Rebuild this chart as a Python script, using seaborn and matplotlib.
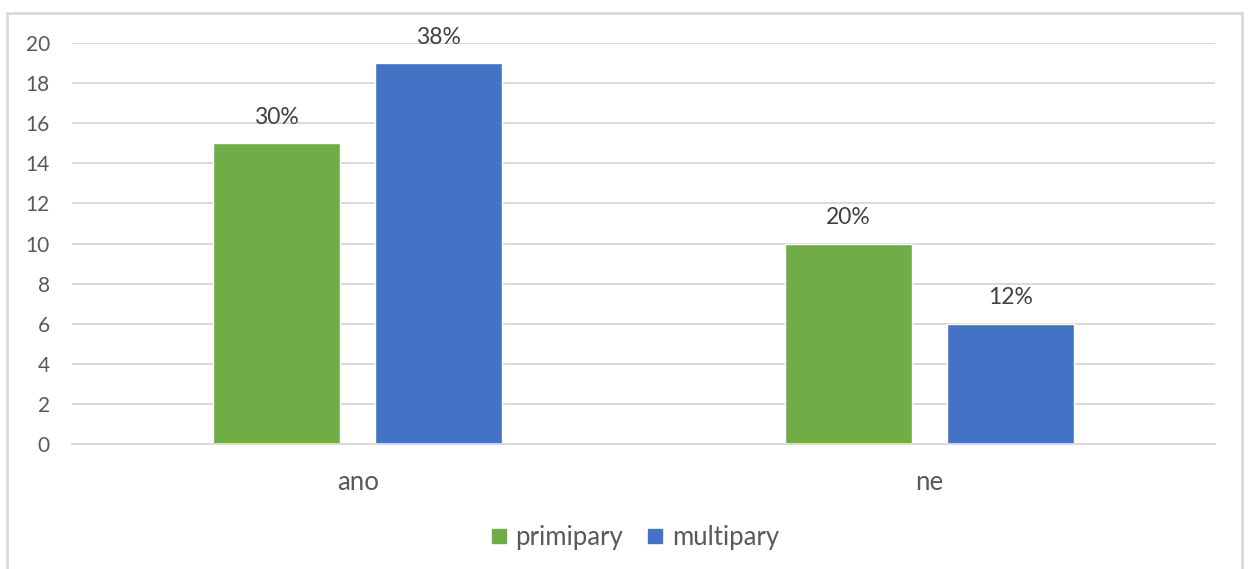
import matplotlib.pyplot as plt
import seaborn as sns
import pandas as pd
from matplotlib.patches import Rectangle
from matplotlib.lines import Line2D

# data
categories = ['ano', 'ne']
series = ['primipary', 'multipary']
primipary = [15, 10]
multipary = [19, 6]
labels_primipary = ['30%', '20%']
labels_multipary = ['38%', '12%']
colors = ['#70AD47', '#4472C4']

df = pd.DataFrame({
    'kategorie': categories * 2,
    'skupina': [series[0]] * 2 + [series[1]] * 2,
    'pocet': primipary + multipary,
})

sns.set_style('white')
plt.rcParams['font.family'] = ['Lato', 'DejaVu Sans']

fig = plt.figure(figsize=(12.49, 5.69), dpi=100)
ax = fig.add_axes([72 / 1249, 1 - 444 / 569, (1215 - 72) / 1249, (444 - 43) / 569])

sns.barplot(data=df, x='kategorie', y='pocet', hue='skupina', palette=colors,
            width=0.567, gap=0.216, ax=ax, legend=False, saturation=1)

for cont, labs in zip(ax.containers, [labels_primipary, labels_multipary]):
    ax.bar_label(cont, labels=labs, padding=11, fontsize=16.5, color='#404040')

ax.set_ylim(0, 20)
ax.set_yticks(range(0, 21, 2))
ax.grid(axis='y', color='#D9D9D9', linewidth=1.4)
ax.set_axisbelow(True)
for s in ['top', 'right', 'left']:
    ax.spines[s].set_visible(False)
ax.spines['bottom'].set_color('#D9D9D9')
ax.spines['bottom'].set_linewidth(1.4)
ax.tick_params(axis='both', length=0, colors='#595959')
ax.tick_params(axis='x', pad=19, labelsize=18.5)
ax.tick_params(axis='y', pad=16, labelsize=15)
ax.set_xlabel('')
ax.set_ylabel('')

handles = [Line2D([], [], marker='s', linestyle='', markersize=10,
                  markerfacecolor=c, markeredgecolor=c) for c in colors]
fig.legend(handles, series, loc='center', bbox_to_anchor=(631 / 1249, 1 - 537 / 569),
           ncol=2, frameon=False, fontsize=18.5, handletextpad=0.05, columnspacing=0.65,
           handlelength=1.2, labelcolor='#595959')

# chart border like in Excel
fig.patches.append(Rectangle((7 / 1249, -0.1), (1242 - 7) / 1249, 1.1 - 13 / 569,
                             transform=fig.transFigure, fill=False,
                             edgecolor='#D9D9D9', linewidth=2))

fig.savefig('out.png', dpi=100)
